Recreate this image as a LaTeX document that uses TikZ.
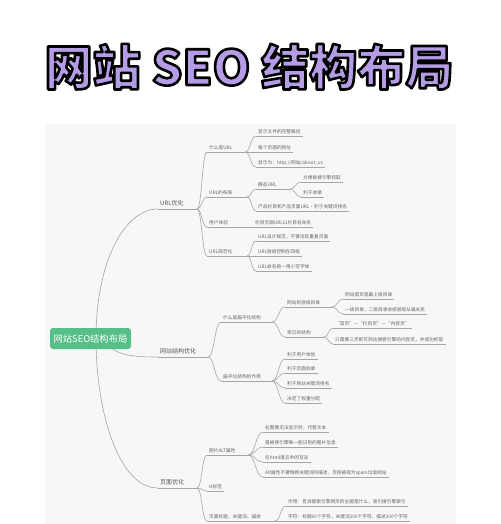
\documentclass[tikz,border=0pt]{standalone}
\usepackage{fontspec}
\newfontfamily\cjk{Noto Sans CJK SC}
\usetikzlibrary{calc}
\pgfdeclarelayer{bg}
\pgfsetlayers{bg,main}
\definecolor{panelc}{RGB}{247,247,247}
\definecolor{lncol}{RGB}{165,165,165}
\definecolor{txt}{RGB}{100,100,100}
\definecolor{txtd}{RGB}{85,85,85}
\definecolor{rootg}{RGB}{86,190,137}
\definecolor{tpurple}{RGB}{181,156,230}
\tikzset{
  titlef/.style={anchor=base, inner sep=0pt, font=\cjk\bfseries\fontsize{48}{48}\selectfont},
  rootbox/.style={fill=rootg, rounded corners=3pt, minimum width=81pt, minimum height=21pt,
    inner sep=0pt, text=white, font=\cjk\fontsize{9.3}{9.3}\selectfont},
  l1/.style={anchor=south west, inner xsep=2pt, inner ysep=2.5pt, text height=5pt, text depth=1.2pt,
    font=\cjk\fontsize{6}{6}\selectfont, text=txtd},
  lf/.style={anchor=south west, inner xsep=2pt, inner ysep=1pt, text height=3.9pt, text depth=0.9pt,
    font=\cjk\fontsize{4.7}{5}\selectfont, text=txt},
  conn/.style={draw=lncol, line width=0.6pt},
  br/.style={to path={.. controls +(#1,0) and +(-#1,0) .. (\tikztotarget)}}
}
\begin{document}
\begin{tikzpicture}[x=1pt,y=-1pt]
\useasboundingbox (0,0) rectangle (500,524);
\begin{pgfonlayer}{bg}
\fill[white] (0,0) rectangle (500,524);
\fill[panelc] (45,124) rectangle (456,524);
\end{pgfonlayer}

% title: filled and outlined glyphs (text render mode 2)
\node[titlef, text=tpurple] (title) at (249,85)
  {\special{pdf:literal direct 2 Tr 2.6 w 1 j 0 0 0 RG}网站 SEO 结构布局\special{pdf:literal direct 0 Tr}};

% root
\node[rootbox] (root) at (90.5,338.5) {网站SEO结构布局};

% level 1
\node[l1] (u1) at (158,209) {URL优化};
\node[l1] (s1) at (158,357) {网站结构优化};
\node[l1] (p1) at (158,488) {页面优化};

% URL branch
\node[lf] (a1) at (207,152) {什么是URL};
\node[lf] (a2) at (207,197) {URL的布局};
\node[lf] (a3) at (207,227) {用户体验};
\node[lf] (a4) at (207,256) {URL规范化};
\node[lf] (b1) at (256,136) {显示文件的完整路径};
\node[lf] (b2) at (256,152) {每个页面的网址};
\node[lf] (b3) at (256,167) {显示为：http://网站/about\_us};
\node[lf] (b4) at (256,189) {静态URL};
\node[lf] (b5) at (256,211) {产品栏目和产品页面URL·利于关键词排名};
\node[lf] (c1) at (301,182) {方便被搜引擎抓取};
\node[lf] (c2) at (301,197) {利于收录};
\node[lf] (b6) at (253,227) {栏目页面URL以栏目名命名};
\node[lf] (b7) at (256,241) {URL设计规范，不要出现重复页面};
\node[lf] (b8) at (256,256) {URL层级控制在四级};
\node[lf] (b9) at (256,271) {URL命名统一用小写字体};

% structure branch
\node[lf] (d1) at (221,322) {什么是扁平化结构};
\node[lf] (d2) at (221,381) {扁平化结构的作用};
\node[lf] (e1) at (285,307) {网站的层级目录};
\node[lf] (e2) at (285,337) {常见的结构};
\node[lf] (f1) at (343,299) {网站首页是最上级目录};
\node[lf] (f2) at (343,314) {一级目录，二级目录会按层级从属关系};
\node[lf] (f3) at (333,328) {“首页”—“栏目页”—“内容页”};
\node[lf] (f4) at (333,344) {只需要三步即可到达搜索引擎的内容页，并成功抓取};
\node[lf] (g1) at (285,359) {利于用户体验};
\node[lf] (g2) at (285,373) {利于页面收录};
\node[lf] (g3) at (285,388) {利于网站关键词排名};
\node[lf] (g4) at (285,403) {决定了权重分配};

% page branch
\node[lf] (h1) at (207,455) {图片ALT属性};
\node[lf] (h2) at (207,491) {H标签};
\node[lf] (h3) at (207,521) {页面标题，关键词，描述};
\node[lf] (i1) at (263,432) {在图像无法显示时，代替文本};
\node[lf] (i2) at (263,447) {是被搜引擎唯一能识别的图片信息};
\node[lf] (i3) at (263,462) {在html语言中的写法};
\node[lf] (i4) at (263,477) {Alt属性不要堆砌关键词的描述，否则被视为spam垃圾网站};
\node[lf] (j1) at (286,506) {作用：告诉搜索引擎网页的主题是什么，吸引搜引擎索引};
\node[lf] (j2) at (286,521) {字符：标题60个字符，关键词100个字符，描述200个字符};

% split points
\coordinate (u1s) at (197,209);
\coordinate (a1s) at (245,152);
\coordinate (a2s) at (247,197);
\coordinate (b4s) at (290,189);
\coordinate (a4s) at (247,256);
\coordinate (s1s) at (208,357);
\coordinate (d1s) at (272,322);
\coordinate (e1s) at (332,307);
\coordinate (e2s) at (324,337);
\coordinate (d2s) at (272,381);
\coordinate (p1s) at (197,488);
\coordinate (h1s) at (248,455);
\coordinate (h3s) at (275,521);

\begin{pgfonlayer}{bg}
% root connectors
\draw[conn] ($(root.center)+(5.5,0)$) .. controls +(0,-78) and +(-33,0) .. (u1.south west);
\draw[conn] ($(root.center)+(17,6)$) .. controls +(10,11) and +(-25,0) .. (s1.south west);
\draw[conn] ($(root.center)+(5.5,0)$) .. controls +(0,72) and +(-40,0) .. (p1.south west);
% parent underlines
\foreach \p in {u1,s1,p1,a1,a2,a4,b4,d1,d2,e1,e2,h1,h3}
  \draw[conn] (\p.south west) -- (\p s);
\draw[conn] (a3.south west) -- (b6.south west);
% leaf underlines
\foreach \n in {b1,b2,b3,b5,b6,b7,b8,b9,c1,c2,f1,f2,f3,f4,g1,g2,g3,g4,h2,i1,i2,i3,i4,j1,j2}
  \draw[conn] (\n.south west) -- (\n.south east);
% branch connectors
\foreach \c in {a1,a2,a3,a4} \draw[conn] (u1s) to[br=5] (\c.south west);
\foreach \c in {b1,b2,b3} \draw[conn] (a1s) to[br=5.5] (\c.south west);
\foreach \c in {b4,b5} \draw[conn] (a2s) to[br=4.5] (\c.south west);
\foreach \c in {c1,c2} \draw[conn] (b4s) to[br=5.5] (\c.south west);
\foreach \c in {b7,b8,b9} \draw[conn] (a4s) to[br=4.5] (\c.south west);
\foreach \c in {d1,d2} \draw[conn] (s1s) to[br=6.5] (\c.south west);
\foreach \c in {e1,e2} \draw[conn] (d1s) to[br=6.5] (\c.south west);
\foreach \c in {f1,f2} \draw[conn] (e1s) to[br=5.5] (\c.south west);
\foreach \c in {f3,f4} \draw[conn] (e2s) to[br=4.5] (\c.south west);
\foreach \c in {g1,g2,g3,g4} \draw[conn] (d2s) to[br=6.5] (\c.south west);
\foreach \c in {h1,h2,h3} \draw[conn] (p1s) to[br=5] (\c.south west);
\foreach \c in {i1,i2,i3,i4} \draw[conn] (h1s) to[br=7.5] (\c.south west);
\foreach \c in {j1,j2} \draw[conn] (h3s) to[br=5.5] (\c.south west);
\end{pgfonlayer}
\end{tikzpicture}
\end{document}
